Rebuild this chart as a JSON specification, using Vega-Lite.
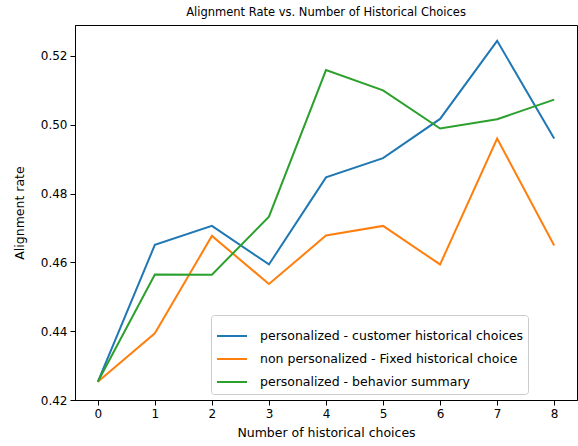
{
  "$schema": "https://vega.github.io/schema/vega-lite/v6.json",
  "width": 502,
  "height": 375,
  "autosize": {"type": "none"},
  "padding": {"left": 75, "top": 25, "right": 1, "bottom": 46},
  "background": "white",
  "title": {
    "text": "Alignment Rate vs. Number of Historical Choices",
    "fontSize": 11.5,
    "fontWeight": "normal",
    "font": "DejaVu Sans",
    "color": "black",
    "anchor": "middle",
    "offset": 7
  },
  "config": {
    "font": "DejaVu Sans",
    "view": {"stroke": "black", "strokeWidth": 1},
    "axis": {
      "domainColor": "black",
      "tickColor": "black",
      "tickSize": 5,
      "labelFontSize": 12,
      "labelColor": "black",
      "labelPadding": 3,
      "titleFontSize": 12.5,
      "titleFontWeight": "normal",
      "titleColor": "black",
      "grid": false
    }
  },
  "data": {
    "values": [
      {"n": 0, "rate": 0.4253, "method": "personalized - customer historical choices"},
      {"n": 1, "rate": 0.4651, "method": "personalized - customer historical choices"},
      {"n": 2, "rate": 0.4706, "method": "personalized - customer historical choices"},
      {"n": 3, "rate": 0.4594, "method": "personalized - customer historical choices"},
      {"n": 4, "rate": 0.4847, "method": "personalized - customer historical choices"},
      {"n": 5, "rate": 0.4903, "method": "personalized - customer historical choices"},
      {"n": 6, "rate": 0.5017, "method": "personalized - customer historical choices"},
      {"n": 7, "rate": 0.5244, "method": "personalized - customer historical choices"},
      {"n": 8, "rate": 0.4960, "method": "personalized - customer historical choices"},
      {"n": 0, "rate": 0.4253, "method": "non personalized - Fixed historical choice"},
      {"n": 1, "rate": 0.4394, "method": "non personalized - Fixed historical choice"},
      {"n": 2, "rate": 0.4677, "method": "non personalized - Fixed historical choice"},
      {"n": 3, "rate": 0.4537, "method": "non personalized - Fixed historical choice"},
      {"n": 4, "rate": 0.4678, "method": "non personalized - Fixed historical choice"},
      {"n": 5, "rate": 0.4706, "method": "non personalized - Fixed historical choice"},
      {"n": 6, "rate": 0.4594, "method": "non personalized - Fixed historical choice"},
      {"n": 7, "rate": 0.4960, "method": "non personalized - Fixed historical choice"},
      {"n": 8, "rate": 0.4649, "method": "non personalized - Fixed historical choice"},
      {"n": 0, "rate": 0.4253, "method": "personalized - behavior summary"},
      {"n": 1, "rate": 0.4565, "method": "personalized - behavior summary"},
      {"n": 2, "rate": 0.4564, "method": "personalized - behavior summary"},
      {"n": 3, "rate": 0.4733, "method": "personalized - behavior summary"},
      {"n": 4, "rate": 0.5159, "method": "personalized - behavior summary"},
      {"n": 5, "rate": 0.5100, "method": "personalized - behavior summary"},
      {"n": 6, "rate": 0.4989, "method": "personalized - behavior summary"},
      {"n": 7, "rate": 0.5016, "method": "personalized - behavior summary"},
      {"n": 8, "rate": 0.5073, "method": "personalized - behavior summary"}
    ]
  },
  "mark": {"type": "line", "strokeWidth": 2, "clip": true},
  "encoding": {
    "x": {
      "field": "n",
      "type": "quantitative",
      "scale": {"domain": [-0.4, 8.4], "nice": false, "zero": false},
      "axis": {
        "values": [0, 1, 2, 3, 4, 5, 6, 7, 8],
        "format": "d",
        "title": "Number of historical choices",
        "titlePadding": 7
      }
    },
    "y": {
      "field": "rate",
      "type": "quantitative",
      "scale": {"domain": [0.42, 0.529], "nice": false, "zero": false},
      "axis": {
        "values": [0.42, 0.44, 0.46, 0.48, 0.5, 0.52],
        "format": ".2f",
        "title": "Alignment rate",
        "titlePadding": 14
      }
    },
    "color": {
      "field": "method",
      "type": "nominal",
      "sort": null,
      "scale": {
        "domain": [
          "personalized - customer historical choices",
          "non personalized - Fixed historical choice",
          "personalized - behavior summary"
        ],
        "range": ["#1f77b4", "#ff7f0e", "#2ca02c"]
      },
      "legend": {
        "title": null,
        "orient": "none",
        "legendX": 136,
        "legendY": 290,
        "direction": "vertical",
        "fillColor": "white",
        "strokeColor": "#cccccc",
        "cornerRadius": 3,
        "padding": 5,
        "symbolType": "stroke",
        "symbolSize": 900,
        "symbolStrokeWidth": 2,
        "labelFontSize": 12.5,
        "labelColor": "black",
        "labelOffset": 12,
        "labelLimit": 0,
        "rowPadding": 0
      }
    }
  }
}
